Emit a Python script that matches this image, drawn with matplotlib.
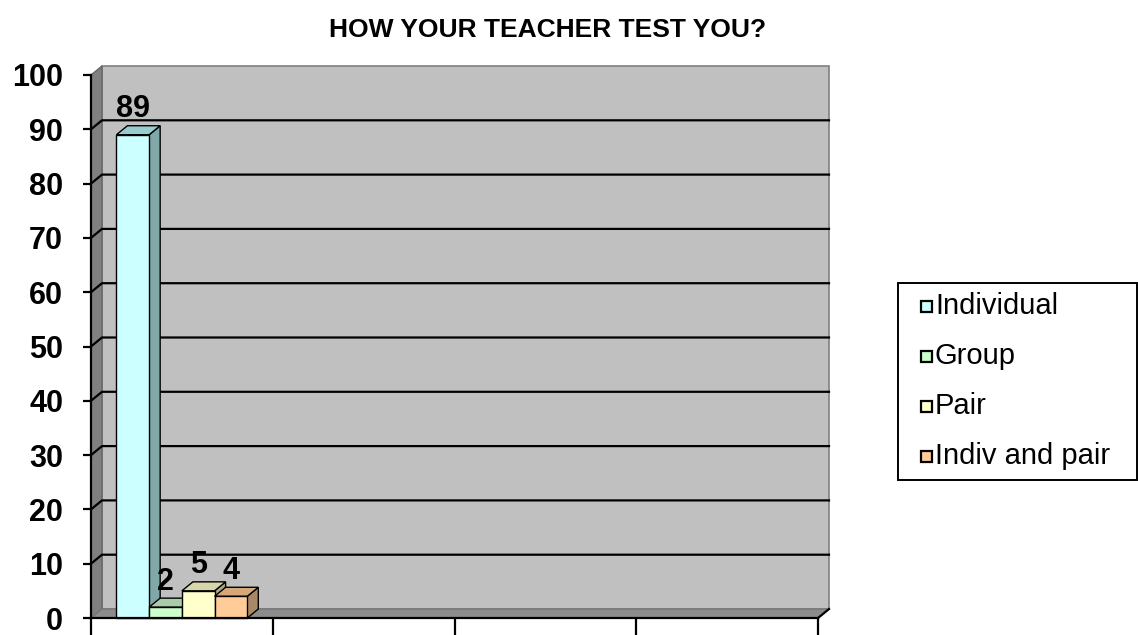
import numpy as np
import matplotlib; matplotlib.use("Agg")
import matplotlib.pyplot as plt
from matplotlib.patches import Polygon, Rectangle

plt.rcParams["font.family"] = ["Liberation Sans", "DejaVu Sans"]

series = ["Individual", "Group", "Pair", "Indiv and pair"]
values = [89, 2, 5, 4]
front_cols = ["#CCFFFF", "#CCFFCC", "#FFFFCC", "#FFCC99"]
side_cols = ["#80A8A8", "#88AA88", "#AAAA88", "#AA8866"]
top_cols = ["#99CCCC", "#A8CCA8", "#D6D6A8", "#D6A878"]
n_cats = 4
yticks = np.arange(0, 101, 10)

W, H = 1138, 635
fig = plt.figure(figsize=(W/100, H/100), dpi=100)
ax = fig.add_axes([91/W, (H-618)/H, 727/W, 543/H])
ax.set_xlim(0, n_cats); ax.set_ylim(0, 100)

# depth offset (pixels -> data units)
DX = 11/727*n_cats; DY = 9/543*100

def poly(pts, fc, ec="none", lw=0.8, z=1):
    ax.add_patch(Polygon(pts, closed=True, facecolor=fc, edgecolor=ec, lw=lw, zorder=z, clip_on=False))

# back wall, side wall, floor
poly([(DX, DY), (n_cats+DX, DY), (n_cats+DX, 100+DY), (DX, 100+DY)], "#C0C0C0", "#808080", 1.2, 0.5)
poly([(0, 0), (DX, DY), (DX, 100+DY), (0, 100)], "#808080", "#666666", 1.0, 0.6)
poly([(0, 0), (n_cats, 0), (n_cats+DX, DY), (DX, DY)], "#8C8C8C", "#777777", 1.0, 0.6)
for v in yticks[1:-1]:
    ax.plot([0, DX, n_cats+DX], [v, v+DY, v+DY], color="black", lw=1.6, zorder=0.8, clip_on=False)
ax.plot([n_cats, n_cats+DX], [0, DY], color="black", lw=1.6, zorder=0.9, clip_on=False)

# bars
bw = 0.18
x0 = 0.5 - bw*len(series)/2
for i, (v, fc, sc, tc) in enumerate(zip(values, front_cols, side_cols, top_cols)):
    l = x0 + i*bw; r = l + bw; z = 2 + i
    poly([(r, 0), (r+DX, DY), (r+DX, v+DY), (r, v)], sc, "black", 1.0, z)
    poly([(l, v), (r, v), (r+DX, v+DY), (l+DX, v+DY)], tc, "black", 1.0, z)
    poly([(l, 0), (r, 0), (r, v), (l, v)], fc, "black", 1.0, z)
    ax.text((l+r)/2, v + DY + 0.3, f"{v}", ha="center", va="bottom",
            fontsize=22, fontweight="bold", zorder=10)

for s in ["top", "right"]:
    ax.spines[s].set_visible(False)
for s in ["left", "bottom"]:
    ax.spines[s].set_linewidth(1.6); ax.spines[s].set_zorder(9)
ax.set_yticks(yticks)
ax.set_yticklabels([str(t) for t in yticks], fontsize=22, fontweight="bold")
ax.tick_params(axis="y", length=6, width=1.6, pad=14)
ax.set_xticks(np.arange(n_cats+1))
ax.set_xticklabels([])
ax.tick_params(axis="x", length=14, width=1.6)

fig.text(548/W, 1-30/H, "HOW YOUR TEACHER TEST YOU?", ha="center", va="center",
         fontsize=19, fontweight="bold")

# legend box drawn by hand (Excel style: small square keys, tight spacing)
def fx(px): return px/W
def fy(py): return 1 - py/H
fig.add_artist(Rectangle((fx(898), fy(480)), fx(1137)-fx(898), fy(283)-fy(480),
                         transform=fig.transFigure, facecolor="white", edgecolor="black", lw=1.4))
for i, (name, c) in enumerate(zip(series, front_cols)):
    base = 314 + 50*i
    fig.add_artist(Rectangle((fx(921), fy(base-2)), 11/W, 11/H, transform=fig.transFigure,
                             facecolor=c, edgecolor="black", lw=1.6))
    fig.text(fx(935), fy(base), name, ha="left", va="baseline", fontsize=21)

fig.savefig("out.png", dpi=100)
